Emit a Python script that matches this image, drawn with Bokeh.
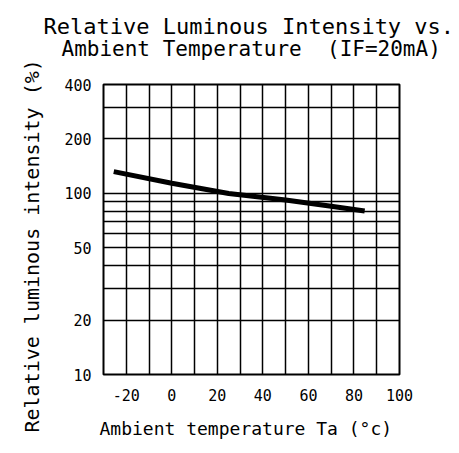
from bokeh.plotting import figure
from bokeh.models import Range1d, FixedTicker, Title
from bokeh.embed import file_html
from bokeh.resources import INLINE

# ---- data ----
temperature = [-25.5, 0, 25, 50, 70, 84.7]
intensity = [132, 114, 100, 92, 85, 80]

xtick_values = [-20, 0, 20, 40, 60, 80, 100]
xtick_labels = ["-20", "0", "20", "40", "60", "80", "100"]
ytick_values = [10, 20, 50, 100, 200, 400]
ytick_labels = ["10", "20", "50", "100", "200", "400"]
xgrid_values = [-30, -20, -10, 0, 10, 20, 30, 40, 50, 60, 70, 80, 90, 100]
ygrid_values = [10, 20, 30, 40, 50, 60, 70, 80, 90, 100, 200, 300, 400]

title_line1 = "Relative Luminous Intensity vs."
title_line2 = "Ambient Temperature\u00a0\u00a0(IF=20mA)"
xlabel = "Ambient temperature Ta (\u00b0c)"
ylabel = "Relative luminous intensity (%)"

FONT = "DejaVu Sans Mono"

X0, X1 = -30, 100
Y0, Y1 = 10, 400

p = figure(width=459, height=453, output_backend="svg", toolbar_location=None,
           x_range=Range1d(X0, X1), y_range=Range1d(Y0, Y1), y_axis_type="log",
           min_border_left=102, min_border_right=60, min_border_top=84, min_border_bottom=79)
p.background_fill_color = "white"
p.border_fill_color = "white"
p.outline_line_color = "black"
p.outline_line_width = 2
p.outline_line_alpha = 1

p.xgrid.ticker = FixedTicker(ticks=xgrid_values)
p.ygrid.ticker = FixedTicker(ticks=ygrid_values)
for g in (p.xgrid, p.ygrid):
    g.grid_line_color = "black"
    g.grid_line_alpha = 1
    g.grid_line_width = 1.5

p.xaxis.ticker = FixedTicker(ticks=xtick_values)
p.yaxis.ticker = FixedTicker(ticks=ytick_values)
p.xaxis.major_label_overrides = {float(v): s for v, s in zip(xtick_values, xtick_labels)}
p.yaxis.major_label_overrides = {float(v): s for v, s in zip(ytick_values, ytick_labels)}
for ax in (p.xaxis, p.yaxis):
    ax.axis_line_color = None
    ax.major_tick_line_color = None
    ax.minor_tick_line_color = None
    ax.major_label_text_font = FONT
    ax.major_label_text_font_size = "15px"
    ax.major_label_text_color = "black"
p.xaxis.major_label_standoff = 8
p.yaxis.major_label_standoff = 6

p.line(temperature, intensity, line_width=5, line_color="black")


def title(text, side, size, offset, standoff):
    p.add_layout(Title(text=text, align="left", offset=offset, standoff=standoff,
                       text_font=FONT, text_font_size=size, text_font_style="normal",
                       text_color="black"), side)


# rows above the frame, nearest first: an empty spacer row, then the two title lines
title("\u00a0", "above", "10px", 0, 11)
title(title_line2, "above", "21px", -42, 0)
title(title_line1, "above", "22px", -60, -8)
title(ylabel, "left", "20px", -58, 35)
title(xlabel, "below", "18px", -4, 24)

open("out.html", "w").write(file_html(p, INLINE))
